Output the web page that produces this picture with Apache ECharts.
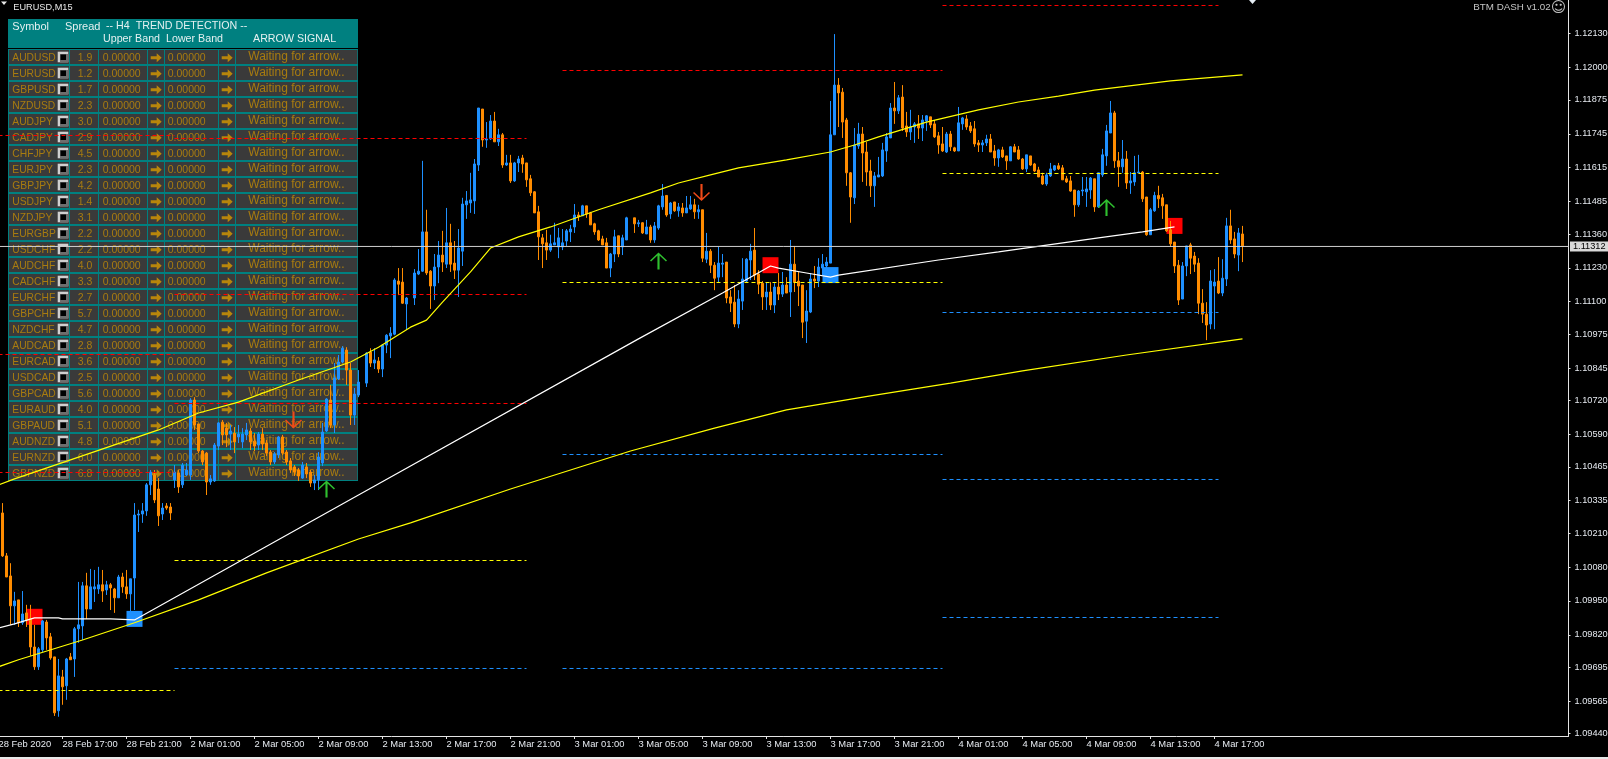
<!DOCTYPE html>
<html><head><meta charset="utf-8"><style>html,body{margin:0;padding:0;background:#000}#c{width:1608px;height:759px}</style>
<script src="https://cdn.jsdelivr.net/npm/echarts@6/dist/echarts.min.js"></script></head><body><div id="c"></div><script>
// prices in points (1 point = 0.00001)
const opens=[110288,110123,110046,109931,109954,109866,109904,109881,109773,109697,
109762,109869,109812,109735,109528,109658,109624,109735,109727,109843,
109854,110008,109919,109996,109996,110012,109992,110012,109996,109962,
110042,110004,109977,110038,110280,110284,110296,110396,110434,110380,
110284,110315,110311,110415,110442,110396,110434,110434,110722,110630,
110526,110518,110407,110411,110545,110637,110614,110591,110595,110580,
110561,110588,110603,110564,110549,110591,110557,110522,110484,110511,
110580,110522,110488,110465,110453,110422,110465,110445,110403,110415,
110480,110603,110722,110626,110803,110868,110914,110837,110664,110741,
null,110787,110906,110864,110872,110841,110933,110968,110975,111179,
111175,111091,null,111114,111206,111217,111368,111217,111160,111233,
111279,111244,111326,111248,111221,111294,111472,111479,111487,111625,
111840,111721,111725,111794,111714,111741,111625,111633,111564,111633,
111652,111633,111572,111522,111445,111345,111326,111298,111318,111310,
111310,111333,111368,111387,111433,111430,111468,111441,111399,111372,
111341,111326,111229,111283,111353,111310,111337,null,111422,111399,
111403,111360,111387,111337,111383,111464,111508,111437,111483,111449,
111460,111441,111456,111472,111445,111453,111263,111294,111240,111194,
111244,111252,111118,111098,111014,111102,111179,111260,111298,111206,
111171,111118,111137,111087,111156,111129,111164,111137,111244,111179,
111164,111025,111060,111187,111179,111229,111237,111248,111741,111932,
111905,111798,111595,111499,111698,111744,111675,111602,111545,111579,
111583,111679,111729,111844,111833,111886,111775,111752,111771,111783,
111767,111794,111810,111783,111737,111706,111675,111744,111691,111679,
111783,111802,111775,111764,111710,111702,111710,111725,111679,111652,
111683,111660,111641,111695,111683,111648,111610,111660,111629,111606,
111583,111552,111583,111606,111622,111614,111572,111564,111529,111472,
111525,111522,111529,111572,111464,111587,111660,111748,111825,111641,
111618,111648,111556,111560,111595,111598,111502,111357,111449,111508,
111499,111472,111376,111329,111240,111110,111237,111318,111275,111248,
111094,111052,111014,111160,111179,111133,111187,111391,111341,111279,111360];
const closes=[110123,110042,109931,109950,109866,109900,109877,109773,109697,109766,
109873,109808,109731,109520,109662,109620,109727,109724,109843,109858,
110008,109919,110004,110004,110012,109988,110012,110000,109962,110042,
110004,109977,110035,110280,110284,110296,110396,110445,110338,110277,
110307,110307,110288,110445,110388,110472,110453,110722,110626,110526,
110484,110407,110419,110549,110634,110588,110588,110603,110561,110591,
110591,110607,110561,110545,110591,110553,110518,110484,110515,110580,
110518,110484,110453,110445,110430,110472,110438,110403,110415,110503,
110599,110726,110626,110807,110868,110921,110837,110664,110745,110791,
null,110902,110864,110876,110841,110933,110971,110979,111183,111167,
111094,111114,null,111210,111217,111368,111210,111160,111233,111279,
111252,111326,111244,111221,111306,111475,111487,111491,111629,111844,
111721,111725,111794,111714,111741,111625,111633,111564,111633,111648,
111629,111568,111518,111441,111349,111322,111298,111322,111326,111345,
111326,111372,111379,111433,111426,111468,111437,111395,111368,111337,
111318,111229,111283,111349,111283,111345,111422,null,111399,111403,
111364,111387,111337,111391,111468,111506,111433,111479,111449,111464,
111441,111460,111472,111445,111453,111267,111294,111240,111190,111248,
111248,111114,111094,111014,111110,111187,111263,111294,111202,111167,
111118,111137,111087,111156,111129,111164,111133,111244,111175,111160,
111021,111064,111187,111179,111233,111244,111252,111741,111932,111902,
111790,111595,111502,111702,111744,111671,111598,111545,111583,111587,
111683,111733,111844,111833,111883,111767,111752,111771,111783,111767,
111798,111814,111779,111733,111702,111679,111744,111695,111679,111787,
111806,111771,111756,111706,111702,111710,111725,111675,111652,111683,
111656,111641,111695,111675,111648,111610,111664,111625,111602,111579,
111552,111587,111610,111622,111610,111568,111560,111525,111472,111525,
111529,111533,111575,111464,111595,111664,111756,111825,111641,111618,
111648,111556,111564,111595,111598,111495,111357,111453,111508,111495,
111468,111372,111322,111237,111106,111237,111314,111267,111244,111094,
111052,111010,111179,111175,111133,111190,111391,111337,111283,111364,111314];
const lows=[110119,110042,109858,109858,109850,109858,109850,109739,109685,109685,
109754,109762,109724,109508,109505,109551,109570,109724,109658,109789,
109800,109881,109919,109946,109977,109946,109973,109915,109904,109962,
109981,109958,109908,109915,110215,110250,110277,110357,110326,110238,
110261,110300,110261,110384,110365,110384,110430,110415,110607,110518,
110472,110357,110396,110407,110530,110549,110541,110530,110518,110557,
110537,110568,110530,110526,110530,110530,110507,110472,110476,110499,
110511,110472,110442,110430,110411,110419,110422,110388,110376,110376,
110468,110599,110614,110595,110799,110864,110780,110626,110626,110733,
null,110772,110849,110841,110826,110810,110902,110883,110971,111125,
111091,110991,null,111087,111202,111214,111202,111072,111106,111171,
111214,111229,111214,111187,111118,111237,111418,111441,111437,111602,
111695,111691,111721,111714,111698,111614,111622,111556,111560,111598,
111595,111541,111506,111441,111260,111229,111260,111291,111318,111267,
111298,111314,111329,111364,111410,111430,111422,111395,111357,111333,
111318,111229,111194,111252,111271,111279,111337,null,111364,111387,
111360,111360,111326,111326,111376,111453,111426,111418,111445,111426,
111426,111441,111453,111418,111418,111252,111248,111210,111144,111175,
111194,111094,111060,111002,110998,111068,111175,111183,111183,111129,
111068,111068,111068,111056,111106,111118,111133,111041,111137,111083,
110960,110941,111056,111152,111156,111202,111202,111248,111741,111771,
111729,111545,111403,111475,111687,111560,111545,111502,111464,111579,
111579,111637,111729,111783,111821,111756,111733,111721,111710,111725,
111717,111756,111767,111729,111668,111675,111671,111679,111675,111679,
111760,111760,111748,111695,111675,111675,111698,111675,111622,111618,
111652,111606,111641,111675,111645,111606,111598,111622,111598,111579,
111548,111545,111579,111602,111606,111568,111556,111522,111426,111464,
111506,111464,111495,111445,111460,111579,111622,111748,111614,111541,
111595,111533,111514,111545,111595,111483,111353,111357,111445,111460,
111418,111368,111310,111210,111087,111110,111198,111206,111214,111052,
111018,110952,110994,110994,111129,111121,111160,111322,111267,111217,111252];
const highs=[110326,110134,110095,109985,109954,109988,109935,109935,109858,109773,
109877,109877,109827,109735,109727,109685,109731,109750,109850,110023,
110023,110058,110073,110069,110081,110069,110027,110019,110000,110050,
110058,110069,110035,110326,110300,110326,110403,110453,110453,110422,
110326,110326,110326,110472,110453,110480,110480,110729,110733,110630,
110530,110522,110434,110557,110637,110645,110634,110626,110618,110626,
110614,110634,110614,110595,110599,110614,110568,110530,110522,110584,
110588,110530,110499,110472,110461,110484,110480,110453,110434,110522,
110634,110729,110780,110864,110895,110929,110925,110864,110768,110837,
null,110906,110921,110921,110887,110937,110975,111002,111190,111229,
111229,111118,null,111225,111302,111641,111453,111221,111283,111333,
111372,111460,111399,111333,111379,111499,111525,111595,111648,111844,
111840,111790,111817,111829,111764,111748,111664,111664,111637,111660,
111664,111633,111587,111525,111468,111360,111376,111357,111403,111383,
111379,111379,111395,111475,111445,111472,111468,111445,111403,111376,
111353,111345,111287,111376,111353,111357,111426,null,111422,111414,
111406,111414,111395,111406,111472,111552,111508,111483,111483,111479,
111479,111506,111506,111495,111472,111453,111364,111302,111252,111310,
111283,111252,111144,111164,111144,111267,111267,111322,111383,111221,
111179,111175,111175,111171,111210,111214,111194,111337,111314,111214,
111164,111144,111210,111237,111267,111283,111271,111871,112128,111959,
111921,111806,111598,111767,111787,111771,111714,111645,111598,111656,
111710,111748,111863,111944,111894,111932,111829,111837,111790,111817,
111817,111817,111810,111798,111752,111771,111752,111756,111695,111848,
111810,111817,111790,111794,111721,111721,111741,111744,111702,111687,
111695,111660,111698,111706,111698,111652,111664,111660,111633,111618,
111595,111595,111633,111625,111633,111625,111583,111583,111529,111529,
111579,111579,111579,111572,111595,111687,111779,111871,111833,111675,
111721,111679,111598,111660,111664,111602,111502,111460,111522,111545,
111514,111472,111410,111329,111260,111252,111314,111326,111291,111267,
111148,111098,111221,111225,111271,111263,111422,111453,111368,111383,111391];
// slow moving averages: [bar, price]
const upperMA=[[-1,110396],[3,110419],[17,110492],[39,110607],[49,110672],[59,110714],[74,110799],[87,110868],[94,110925],[102,111002],[106,111029],[110,111098],[117,111214],[122,111306],[129,111349],[137,111387],[149,111453],[162,111518],[169,111556],[177,111587],[184,111614],[196,111645],[207,111675],[213,111702],[219,111733],[231,111790],[244,111837],[254,111867],[264,111890],[273,111913],[292,111948],[310,111971]];
const lowerMA=[[-1,109697],[4,109724],[20,109800],[33,109866],[49,109954],[66,110058],[89,110188],[102,110250],[127,110380],[157,110526],[178,110614],[196,110684],[217,110738],[237,110787],[255,110834],[281,110895],[310,110957]];
const signalLine=[[-1,109846],[3,109862],[8,109885],[14,109885],[15,109881],[27,109881],[33,109877],[89,110357],[159,110957],[180,111133],[188,111202],[192,111237],[194,111229],[201,111210],[207,111194],[209,111202],[234,111260],[249,111291],[274,111345],[285,111368],[293,111387]];
// dashed levels: [firstBar, lastBar, price]
const redLevels=[[235,304,112237.9],[140,235,111988.1],[-1,43,111738.4],[43,131,111726.8],[43,131,111127.4],[-1,43,110896.9],[43,131,110708.6],[-1,43,110443.5]];
const yellowLevels=[[43,131,110105.3],[-1,43,109605.8],[140,235,111173.5],[235,304,111592.3]];
const blueLevels=[[43,131,109690.4],[140,235,109690.4],[140,235,110512.6],[235,304,111058.2],[235,304,110416.6],[235,304,109886.3]];
const redSquares=[[8,109889],[192,111240],[293,111391]];
const blueSquares=[[33,109881],[207,111202]];
const upArrows=[[81,110380],[164,111256],[276,111462]];
const downArrows=[[73,110645],[175,111519]];
const bidPrice=111312;
const yTicks=[112130,112000,111875,111745,111615,111485,111360,111230,111100,110975,110845,110720,110590,110465,110335,110210,110080,109950,109820,109695,109565,109440];
const xTickLabels=['28 Feb 2020','28 Feb 17:00','28 Feb 21:00','2 Mar 01:00','2 Mar 05:00','2 Mar 09:00','2 Mar 13:00','2 Mar 17:00','2 Mar 21:00','3 Mar 01:00','3 Mar 05:00','3 Mar 09:00','3 Mar 13:00','3 Mar 17:00','3 Mar 21:00','4 Mar 01:00','4 Mar 05:00','4 Mar 09:00','4 Mar 13:00','4 Mar 17:00'];
const symbols=['AUDUSD','EURUSD','GBPUSD','NZDUSD','AUDJPY','CADJPY','CHFJPY','EURJPY','GBPJPY','USDJPY','NZDJPY','EURGBP','USDCHF','AUDCHF','CADCHF','EURCHF','GBPCHF','NZDCHF','AUDCAD','EURCAD','USDCAD','GBPCAD','EURAUD','GBPAUD','AUDNZD','EURNZD','GBPNZD'];
const spreads=['1.9','1.2','1.7','2.3','3.0','2.9','4.5','2.3','4.2','1.4','3.1','2.2','2.2','4.0','3.3','2.7','5.7','4.7','2.8','3.6','2.5','5.6','4.0','5.1','4.8','6.0','6.8'];

const FONT='"Liberation Sans",Arial,sans-serif';
const BLUE='#1E90FF',ORANGE='#FF8C00',GOLD='#A87C10',TEAL='#008080';
const SLOTS=393;
const cats=new Array(SLOTS).fill('');
xTickLabels.forEach((t,k)=>{cats[k*16]=t;});
const px=v=>v/1e5;
const candleData=[['-','-','-','-']].concat(opens.map((o,i)=>o===null?['-','-','-','-']:[px(o),px(closes[i]),px(lows[i]),px(highs[i])]));
const pts=a=>a.map(p=>[p[0]+1,px(p[1])]);
const levelSeries=(levels,color,dash)=>levels.map(l=>({type:'line',z:3,silent:true,showSymbol:false,symbol:'none',animation:false,
  data:[[l[0]+1,px(l[2])],[l[1]+1,px(l[2])]],lineStyle:{color:color,width:1,type:dash}}));
const lineS=(a,color)=>({type:'line',z:3,silent:true,showSymbol:false,symbol:'none',animation:false,data:pts(a),lineStyle:{color:color,width:1.2}});
const scat=(a,color,sym,size,rot,z,off)=>({type:'scatter',z:z,silent:true,animation:false,symbol:sym,symbolSize:size,symbolRotate:rot,symbolOffset:off||[0,0],data:pts(a),itemStyle:{color:color,opacity:1}});
const ARROW='path://M7 17L7 3L1 9L0 8L8 0L16 8L15 9L9 3L9 17Z';

// dashboard panel
const g=[];
const R=(x,y,w,h,fill)=>g.push({type:'rect',silent:true,shape:{x,y,width:w,height:h},style:{fill}});
const T=(x,y,text,fill,size,fam,align)=>g.push({type:'text',silent:true,x,y,style:{text,fill,font:size+'px '+(fam||FONT),textAlign:align||'left',textVerticalAlign:'middle'}});
const A=(x,y)=>g.push({type:'polygon',silent:true,shape:{points:[[x,y+3],[x+6,y+3],[x+6,y],[x+11,y+4.5],[x+6,y+9],[x+6,y+6],[x,y+6]]},style:{fill:'#B8860B'}});
R(0,757,1608,2,'#E8E8E8');
R(8,19,350,29,TEAL);R(8,49,350,432,TEAL);
const HW='#E4F0F0';
T(12.3,26.5,'Symbol',HW,11);T(65,26.5,'Spread',HW,11);T(106,26.5,'-- H4  TREND DETECTION --',HW,10.7);
T(103,39.5,'Upper Band',HW,10.7);T(166,39.5,'Lower Band',HW,10.7);T(253,39.5,'ARROW SIGNAL',HW,10.7);
const cells=[[9,60],[70,28],[99,48],[148,16],[165,53],[219,16],[236,121.3]];
symbols.forEach((s,k)=>{const y=50+16*k;
  cells.forEach(c=>R(c[0],y,c[1],14,'#3A3A3A'));
  T(12.3,y+8,s,GOLD,10.3);
  R(57.7,y+1.7,10.6,10.6,'#CFCFCF');R(60,y+4,8.3,8.3,'#6E6E6E');R(60.5,y+4.5,5.5,5.5,'#000');
  T(77.7,y+8,spreads[k],GOLD,10.5);
  T(102.7,y+8,'0.00000',GOLD,10.5);
  A(150.7,y+3.2);
  T(167.7,y+8,'0.00000',GOLD,10.5);
  A(221.7,y+3.2);
  T(248.3,y+7,'Waiting for arrow..',GOLD,12);
});
T(13.3,7,'EURUSD,M15','#E8E8E8',9.2);
g.push({type:'polygon',silent:true,shape:{points:[[1,1.5],[7,1.5],[4,5]]},style:{fill:'#E8E8E8'}});
T(1473.3,7.5,'BTM DASH v1.02','#C4C4C4',9.8);
T(1550.7,8,'☺','#C4C4C4',15,'"DejaVu Sans"');
g.push({type:'polygon',silent:true,shape:{points:[[1249,0],[1256,0],[1252.5,4]]},style:{fill:'#E6EEF5'}});

const chart=echarts.init(document.getElementById('c'),null,{renderer:'canvas'});
const showTick=i=>i%16===0&&i/16<xTickLabels.length;
chart.setOption({
  backgroundColor:'#000',animation:false,tooltip:{show:false},legend:{show:false},
  graphic:{elements:g},
  grid:{left:-3.5,right:39.5,top:0,bottom:23,containLabel:false,outerBoundsMode:'none'},
  xAxis:[{type:'category',data:cats,boundaryGap:true,
    axisLine:{show:true,lineStyle:{color:'#E4E4E4',width:1}},
    axisTick:{show:true,alignWithLabel:true,length:3,interval:showTick,lineStyle:{color:'#E4E4E4'}},
    axisLabel:{show:true,interval:showTick,align:'left',margin:4,color:'#E6EAF0',fontFamily:FONT,fontSize:9.4,hideOverlap:false,showMinLabel:true},
    splitLine:{show:false}},
    {type:'value',show:false,min:0,max:1,position:'top',splitLine:{show:false}}],
  yAxis:{type:'value',position:'right',min:px(109431),max:px(112259),scale:true,
    axisLine:{show:true,onZero:false,lineStyle:{color:'#E4E4E4',width:1}},
    axisTick:{show:true,length:2,customValues:yTicks.map(px),lineStyle:{color:'#E4E4E4'}},
    axisLabel:{show:true,margin:6,align:'left',color:'#E6EAF0',fontFamily:FONT,fontSize:9.2,customValues:yTicks.map(px),formatter:v=>v.toFixed(5),hideOverlap:false},
    splitLine:{show:false}},
  series:[
    scat(redSquares,'#FF0000','rect',16,0,1),
    scat(blueSquares,BLUE,'rect',16,0,1),
    {type:'candlestick',z:2,silent:true,animation:false,barWidth:3.4,data:candleData,
      itemStyle:{color:BLUE,color0:ORANGE,borderColor:BLUE,borderColor0:ORANGE,borderWidth:1}},
    ...levelSeries(redLevels,'#FF0000',[4,3]),
    ...levelSeries(yellowLevels,'#FFFF00',[4,3]),
    ...levelSeries(blueLevels,BLUE,[4,3]),
    lineS(upperMA,'#FFFF00'),
    lineS(lowerMA,'#FFFF00'),
    lineS(signalLine,'#FFFFFF'),
    {type:'line',z:5,xAxisIndex:1,silent:true,animation:false,showSymbol:false,symbol:'none',clip:false,
      data:[[0,px(bidPrice)],[1,px(bidPrice)]],lineStyle:{color:'#D0D0D0',width:1},
      endLabel:{show:true,distance:1.5,formatter:()=>px(bidPrice).toFixed(5),color:'#000',backgroundColor:'#D8D8D8',fontFamily:FONT,fontSize:9.2,padding:[1,3,0,3],lineHeight:9}},
    scat(upArrows,'#2FBF2F',ARROW,17,0,4),
    scat(downArrows,'#F04A18',ARROW,17,180,4,[-1,0])
  ]
});
</script></body></html>
